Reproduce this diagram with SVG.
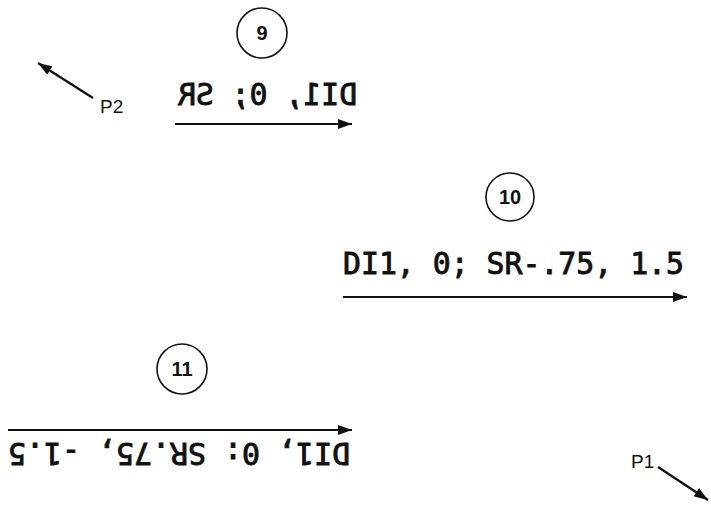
<svg xmlns="http://www.w3.org/2000/svg" width="711" height="508" viewBox="0 0 711 508">
  <style>
    .lbl { font-family: "DejaVu Sans Mono", "Liberation Mono", monospace; font-size: 30px; font-weight: normal; fill: #111; stroke: #111; stroke-width: 0.9; }
    .num { font-family: "Liberation Sans", Arial, sans-serif; font-size: 20px; font-weight: bold; fill: #111; text-anchor: middle; }
    .pt { font-family: "Liberation Sans", Arial, sans-serif; font-size: 19px; fill: #111; }
    .ring { fill: none; stroke: #111; stroke-width: 1.6; }
    .arr { fill: none; stroke: #111; stroke-width: 2.2; marker-end: url(#ah); }
  </style>
  <defs>
    <marker id="ah" viewBox="0 0 14 10" refX="14" refY="5" markerWidth="14" markerHeight="10" markerUnits="userSpaceOnUse" orient="auto">
      <path d="M0,0 L14,5 L0,10 z" fill="#111"/>
    </marker>
  </defs>
  <rect width="711" height="508" fill="#fff"/>

  <g id="connectors">
    <line class="arr" x1="93" y1="98" x2="38" y2="63"/>
    <line class="arr" x1="175" y1="124" x2="352" y2="124"/>
    <line class="arr" x1="343" y1="297" x2="687" y2="297"/>
    <line class="arr" x1="8" y1="430" x2="352" y2="430"/>
    <line class="arr" x1="658" y1="467" x2="708" y2="500"/>
  </g>

  <g id="node9">
    <circle class="ring" cx="262" cy="33" r="25"/>
    <text class="num" x="262" y="40">9</text>
  </g>
  <g id="label9">
    <text class="lbl" x="178" y="105" textLength="179" lengthAdjust="spacingAndGlyphs" transform="matrix(-1 0 0 1 535 0)">DI1, 0; SR</text>
  </g>

  <g id="node10">
    <circle class="ring" cx="510" cy="197" r="24"/>
    <text class="num" x="510" y="204">10</text>
  </g>
  <g id="label10">
    <text class="lbl" x="343" y="274" textLength="341" lengthAdjust="spacingAndGlyphs">DI1, 0; SR-.75, 1.5</text>
  </g>

  <g id="node11">
    <circle class="ring" cx="182" cy="369" r="25"/>
    <text class="num" x="182" y="376">11</text>
  </g>
  <g id="label11">
    <text class="lbl" x="179" y="465" text-anchor="middle" textLength="342" lengthAdjust="spacingAndGlyphs" transform="rotate(180 179 454)">DI1, 0: SR.75, -1.5</text>
  </g>

  <g id="P2">
    <text class="pt" x="100" y="113">P2</text>
  </g>
  <g id="P1">
    <text class="pt" x="631" y="468">P1</text>
  </g>
</svg>
